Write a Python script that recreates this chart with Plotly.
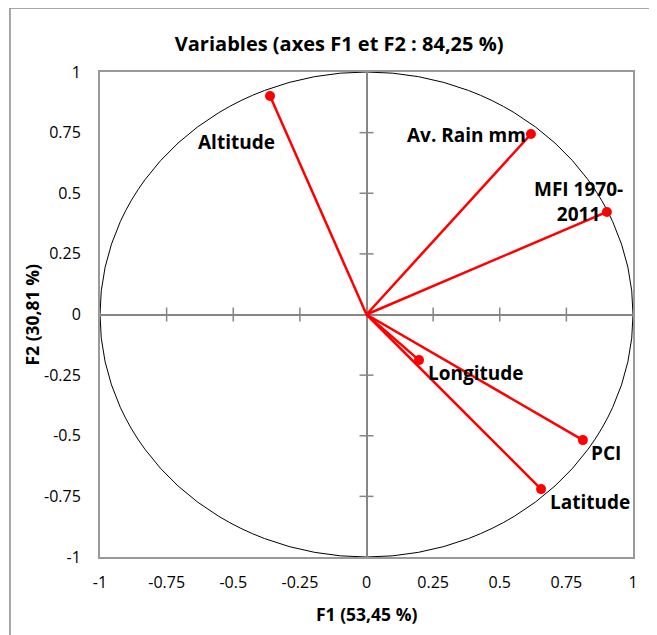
import plotly.graph_objects as go

# ---- data ----
variables = ["Altitude", "Av. Rain mm", "MFI 1970-<br>2011", "Longitude", "PCI", "Latitude"]
f1 = [-0.362, 0.617, 0.902, 0.197, 0.812, 0.655]
f2 = [0.901, 0.744, 0.423, -0.188, -0.518, -0.720]

tick_vals = [-1, -0.75, -0.5, -0.25, 0, 0.25, 0.5, 0.75, 1]
tick_text = ["-1", "-0.75", "-0.5", "-0.25", "0", "0.25", "0.5", "0.75", "1"]

# label placement (pixel offsets from point)
label_style = {
    "Altitude": dict(xanchor="center", xshift=-34, yshift=-46),
    "Av. Rain mm": dict(xanchor="right", xshift=-3, yshift=-1),
    "MFI 1970-<br>2011": dict(xanchor="center", xshift=-28, yshift=10),
    "Longitude": dict(xanchor="left", xshift=7, yshift=-13),
    "PCI": dict(xanchor="left", xshift=6, yshift=-13),
    "Latitude": dict(xanchor="left", xshift=7, yshift=-13),
}

RED = "#FF0000"
GRAY = "#868686"
FONT = "Open Sans"

fig = go.Figure()

# cross tick marks on the zero axes
inner_ticks = [t for t in tick_vals if t not in (-1, 0, 1)]
fig.add_trace(go.Scatter(
    x=inner_ticks, y=[0] * len(inner_ticks), mode="markers",
    marker=dict(symbol="line-ns", size=10, line=dict(color=GRAY, width=1.5)),
    hoverinfo="skip", showlegend=False))
fig.add_trace(go.Scatter(
    x=[0] * len(inner_ticks), y=inner_ticks, mode="markers",
    marker=dict(symbol="line-ew", size=10, line=dict(color=GRAY, width=1.5)),
    hoverinfo="skip", showlegend=False))

# vectors
for name, x, y in zip(variables, f1, f2):
    fig.add_trace(go.Scatter(
        x=[0, x], y=[0, y], mode="lines",
        line=dict(color=RED, width=2.5),
        showlegend=False, name=name.replace("<br>", " ")))
fig.add_trace(go.Scatter(
    x=f1, y=f2, mode="markers",
    marker=dict(color=RED, size=10, opacity=1, line=dict(width=0)),
    showlegend=False))

for name, x, y in zip(variables, f1, f2):
    st = label_style[name]
    fig.add_annotation(
        x=x, y=y, text="<b>" + name + "</b>", showarrow=False,
        xanchor=st["xanchor"], yanchor="middle",
        xshift=st["xshift"], yshift=st["yshift"],
        font=dict(family=FONT, size=19, color="black"))

# correlation circle
fig.add_shape(type="circle", xref="x", yref="y", x0=-1, y0=-1, x1=1, y1=1,
              line=dict(color="black", width=1), layer="below")

# outer border of the chart
fig.add_shape(type="rect", xref="paper", yref="paper",
              x0=-0.1689, x1=1.0413, y0=-0.25, y1=1.132,
              line=dict(color="#8A8A8A", width=1.5))

axis_common = dict(
    range=[-1, 1], tickvals=tick_vals, ticktext=tick_text,
    showgrid=False, zeroline=True, zerolinecolor=GRAY, zerolinewidth=1.5,
    showline=True, linecolor="#999999", linewidth=2, mirror=True,
    ticks="",
    tickfont=dict(family=FONT, size=16, color="black"),
)

fig.update_layout(
    width=657, height=635,
    margin=dict(l=92, r=32, t=64, b=86),
    paper_bgcolor="white", plot_bgcolor="white",
    title=dict(text="<b>Variables (axes F1 et F2 : 84,25 %)</b>",
               x=0.504, xanchor="center", y=0.943, yanchor="middle",
               font=dict(family=FONT, size=20, color="black")),
    xaxis=dict(axis_common, ticklabelstandoff=10),
    yaxis=dict(axis_common, ticklabelstandoff=14),
)

fig.add_annotation(x=0.5, y=-0.1175, xref="paper", yref="paper",
                   text="<b>F1 (53,45 %)</b>", showarrow=False,
                   xanchor="center", yanchor="middle",
                   font=dict(family=FONT, size=17.5, color="black"))
fig.add_annotation(x=-0.1276, y=0.5, xref="paper", yref="paper",
                   text="<b>F2 (30,81 %)</b>", showarrow=False, textangle=-90,
                   xanchor="center", yanchor="middle",
                   font=dict(family=FONT, size=17.5, color="black"))

fig.write_html("out.html")
